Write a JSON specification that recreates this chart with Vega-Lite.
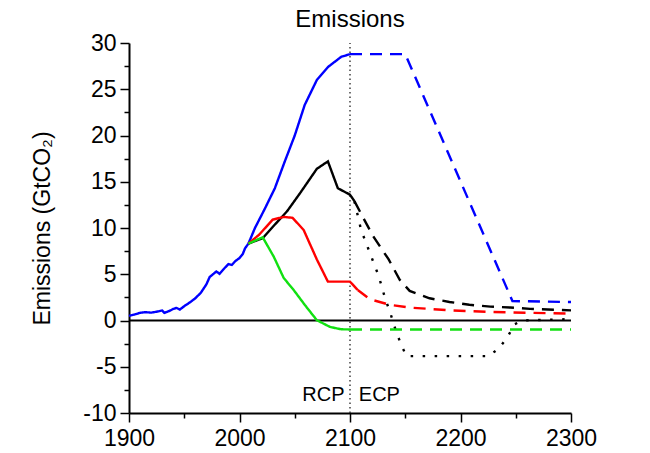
{
  "$schema": "https://vega.github.io/schema/vega-lite/v6.json",
  "autosize": "none",
  "width": 442,
  "height": 370,
  "padding": {"left": 129, "top": 43, "right": 79, "bottom": 40},
  "config": {"view": {"stroke": null}, "font": "Liberation Sans"},
  "title": {"text": "Emissions", "fontSize": 24, "fontWeight": "normal", "color": "black", "font": "Liberation Sans", "offset": 0},
  "data": {"values": [
    {"path":"hist","scenario":"Historical","segment":"RCP","year":1900,"value":0.5},
    {"path":"hist","scenario":"Historical","segment":"RCP","year":1905,"value":0.65},
    {"path":"hist","scenario":"Historical","segment":"RCP","year":1910,"value":0.83},
    {"path":"hist","scenario":"Historical","segment":"RCP","year":1915,"value":0.9},
    {"path":"hist","scenario":"Historical","segment":"RCP","year":1920,"value":0.85},
    {"path":"hist","scenario":"Historical","segment":"RCP","year":1925,"value":0.95},
    {"path":"hist","scenario":"Historical","segment":"RCP","year":1930,"value":1.08},
    {"path":"hist","scenario":"Historical","segment":"RCP","year":1932,"value":0.83},
    {"path":"hist","scenario":"Historical","segment":"RCP","year":1936,"value":1.0},
    {"path":"hist","scenario":"Historical","segment":"RCP","year":1940,"value":1.25},
    {"path":"hist","scenario":"Historical","segment":"RCP","year":1943,"value":1.36},
    {"path":"hist","scenario":"Historical","segment":"RCP","year":1946,"value":1.18},
    {"path":"hist","scenario":"Historical","segment":"RCP","year":1950,"value":1.55},
    {"path":"hist","scenario":"Historical","segment":"RCP","year":1955,"value":1.95},
    {"path":"hist","scenario":"Historical","segment":"RCP","year":1960,"value":2.4},
    {"path":"hist","scenario":"Historical","segment":"RCP","year":1965,"value":3.0},
    {"path":"hist","scenario":"Historical","segment":"RCP","year":1970,"value":3.9},
    {"path":"hist","scenario":"Historical","segment":"RCP","year":1973,"value":4.7},
    {"path":"hist","scenario":"Historical","segment":"RCP","year":1976,"value":5.0},
    {"path":"hist","scenario":"Historical","segment":"RCP","year":1979,"value":5.3},
    {"path":"hist","scenario":"Historical","segment":"RCP","year":1982,"value":5.05},
    {"path":"hist","scenario":"Historical","segment":"RCP","year":1986,"value":5.6},
    {"path":"hist","scenario":"Historical","segment":"RCP","year":1990,"value":6.1},
    {"path":"hist","scenario":"Historical","segment":"RCP","year":1993,"value":6.0},
    {"path":"hist","scenario":"Historical","segment":"RCP","year":1996,"value":6.4},
    {"path":"hist","scenario":"Historical","segment":"RCP","year":2000,"value":6.75},
    {"path":"hist","scenario":"Historical","segment":"RCP","year":2003,"value":7.2},
    {"path":"hist","scenario":"Historical","segment":"RCP","year":2005,"value":7.8},
    {"path":"hist","scenario":"Historical","segment":"RCP","year":2008,"value":8.3},

    {"path":"r85","scenario":"RCP8.5","segment":"RCP","year":2008,"value":8.3},
    {"path":"r85","scenario":"RCP8.5","segment":"RCP","year":2014,"value":10.0},
    {"path":"r85","scenario":"RCP8.5","segment":"RCP","year":2023,"value":12.1},
    {"path":"r85","scenario":"RCP8.5","segment":"RCP","year":2032,"value":14.3},
    {"path":"r85","scenario":"RCP8.5","segment":"RCP","year":2041,"value":17.2},
    {"path":"r85","scenario":"RCP8.5","segment":"RCP","year":2050,"value":20.0},
    {"path":"r85","scenario":"RCP8.5","segment":"RCP","year":2059,"value":23.3},
    {"path":"r85","scenario":"RCP8.5","segment":"RCP","year":2070,"value":26.0},
    {"path":"r85","scenario":"RCP8.5","segment":"RCP","year":2080,"value":27.4},
    {"path":"r85","scenario":"RCP8.5","segment":"RCP","year":2092,"value":28.5},
    {"path":"r85","scenario":"RCP8.5","segment":"RCP","year":2100,"value":28.8},
    {"path":"e85","scenario":"RCP8.5","segment":"ECP","year":2100,"value":28.8},
    {"path":"e85","scenario":"RCP8.5","segment":"ECP","year":2150,"value":28.8},
    {"path":"e85","scenario":"RCP8.5","segment":"ECP","year":2247,"value":2.1},
    {"path":"e85","scenario":"RCP8.5","segment":"ECP","year":2300,"value":2.0},

    {"path":"r60","scenario":"RCP6","segment":"RCP","year":2008,"value":8.3},
    {"path":"r60","scenario":"RCP6","segment":"RCP","year":2012,"value":8.5},
    {"path":"r60","scenario":"RCP6","segment":"RCP","year":2021,"value":8.9},
    {"path":"r60","scenario":"RCP6","segment":"RCP","year":2033,"value":10.5},
    {"path":"r60","scenario":"RCP6","segment":"RCP","year":2043,"value":11.8},
    {"path":"r60","scenario":"RCP6","segment":"RCP","year":2055,"value":13.8},
    {"path":"r60","scenario":"RCP6","segment":"RCP","year":2070,"value":16.4},
    {"path":"r60","scenario":"RCP6","segment":"RCP","year":2080,"value":17.2},
    {"path":"r60","scenario":"RCP6","segment":"RCP","year":2089,"value":14.3},
    {"path":"r60","scenario":"RCP6","segment":"RCP","year":2100,"value":13.6},
    {"path":"r60","scenario":"RCP6","segment":"RCP","year":2104,"value":12.9},
    {"path":"e60","scenario":"RCP6","segment":"ECP","year":2104,"value":12.9},
    {"path":"e60","scenario":"RCP6","segment":"ECP","year":2112,"value":11.1},
    {"path":"e60","scenario":"RCP6","segment":"ECP","year":2121,"value":9.1},
    {"path":"e60","scenario":"RCP6","segment":"ECP","year":2135,"value":6.6},
    {"path":"e60","scenario":"RCP6","segment":"ECP","year":2145,"value":4.4},
    {"path":"e60","scenario":"RCP6","segment":"ECP","year":2154,"value":3.2},
    {"path":"e60","scenario":"RCP6","segment":"ECP","year":2172,"value":2.4},
    {"path":"e60","scenario":"RCP6","segment":"ECP","year":2190,"value":2.0},
    {"path":"e60","scenario":"RCP6","segment":"ECP","year":2208,"value":1.7},
    {"path":"e60","scenario":"RCP6","segment":"ECP","year":2227,"value":1.5},
    {"path":"e60","scenario":"RCP6","segment":"ECP","year":2245,"value":1.4},
    {"path":"e60","scenario":"RCP6","segment":"ECP","year":2263,"value":1.26},
    {"path":"e60","scenario":"RCP6","segment":"ECP","year":2300,"value":1.1},
    {"path":"x60","scenario":"RCP6","segment":"ECP-alt","year":2104,"value":12.9},
    {"path":"x60","scenario":"RCP6","segment":"ECP-alt","year":2110,"value":9.8},
    {"path":"x60","scenario":"RCP6","segment":"ECP-alt","year":2118,"value":7.3},
    {"path":"x60","scenario":"RCP6","segment":"ECP-alt","year":2126,"value":4.8},
    {"path":"x60","scenario":"RCP6","segment":"ECP-alt","year":2132,"value":2.3},
    {"path":"x60","scenario":"RCP6","segment":"ECP-alt","year":2136,"value":1.0},
    {"path":"x60","scenario":"RCP6","segment":"ECP-alt","year":2142,"value":-1.3},
    {"path":"x60","scenario":"RCP6","segment":"ECP-alt","year":2147,"value":-2.8},
    {"path":"x60","scenario":"RCP6","segment":"ECP-alt","year":2151,"value":-3.85},
    {"path":"x60","scenario":"RCP6","segment":"ECP-alt","year":2225,"value":-3.85},
    {"path":"x60","scenario":"RCP6","segment":"ECP-alt","year":2234,"value":-3.1},
    {"path":"x60","scenario":"RCP6","segment":"ECP-alt","year":2242,"value":-1.9},
    {"path":"x60","scenario":"RCP6","segment":"ECP-alt","year":2249,"value":-0.4},
    {"path":"x60","scenario":"RCP6","segment":"ECP-alt","year":2256,"value":0.0},
    {"path":"x60","scenario":"RCP6","segment":"ECP-alt","year":2300,"value":0.15},

    {"path":"r45","scenario":"RCP4.5","segment":"RCP","year":2008,"value":8.3},
    {"path":"r45","scenario":"RCP4.5","segment":"RCP","year":2018,"value":9.3},
    {"path":"r45","scenario":"RCP4.5","segment":"RCP","year":2030,"value":10.9},
    {"path":"r45","scenario":"RCP4.5","segment":"RCP","year":2040,"value":11.2},
    {"path":"r45","scenario":"RCP4.5","segment":"RCP","year":2048,"value":11.1},
    {"path":"r45","scenario":"RCP4.5","segment":"RCP","year":2058,"value":9.8},
    {"path":"r45","scenario":"RCP4.5","segment":"RCP","year":2070,"value":6.6},
    {"path":"r45","scenario":"RCP4.5","segment":"RCP","year":2080,"value":4.2},
    {"path":"r45","scenario":"RCP4.5","segment":"RCP","year":2100,"value":4.2},
    {"path":"r45","scenario":"RCP4.5","segment":"RCP","year":2107,"value":3.3},
    {"path":"e45","scenario":"RCP4.5","segment":"ECP","year":2107,"value":3.3},
    {"path":"e45","scenario":"RCP4.5","segment":"ECP","year":2118,"value":2.3},
    {"path":"e45","scenario":"RCP4.5","segment":"ECP","year":2136,"value":1.7},
    {"path":"e45","scenario":"RCP4.5","segment":"ECP","year":2154,"value":1.4},
    {"path":"e45","scenario":"RCP4.5","segment":"ECP","year":2190,"value":1.1},
    {"path":"e45","scenario":"RCP4.5","segment":"ECP","year":2227,"value":0.93},
    {"path":"e45","scenario":"RCP4.5","segment":"ECP","year":2263,"value":0.83},
    {"path":"e45","scenario":"RCP4.5","segment":"ECP","year":2300,"value":0.75},

    {"path":"r26","scenario":"RCP2.6","segment":"RCP","year":2008,"value":8.3},
    {"path":"r26","scenario":"RCP2.6","segment":"RCP","year":2021,"value":9.0},
    {"path":"r26","scenario":"RCP2.6","segment":"RCP","year":2031,"value":6.9},
    {"path":"r26","scenario":"RCP2.6","segment":"RCP","year":2040,"value":4.6},
    {"path":"r26","scenario":"RCP2.6","segment":"RCP","year":2049,"value":3.3},
    {"path":"r26","scenario":"RCP2.6","segment":"RCP","year":2059,"value":1.7},
    {"path":"r26","scenario":"RCP2.6","segment":"RCP","year":2070,"value":0.03},
    {"path":"r26","scenario":"RCP2.6","segment":"RCP","year":2082,"value":-0.7},
    {"path":"r26","scenario":"RCP2.6","segment":"RCP","year":2092,"value":-0.95},
    {"path":"r26","scenario":"RCP2.6","segment":"RCP","year":2100,"value":-0.97},
    {"path":"e26","scenario":"RCP2.6","segment":"ECP","year":2100,"value":-0.97},
    {"path":"e26","scenario":"RCP2.6","segment":"ECP","year":2300,"value":-0.97}
  ]},
  "encoding": {
    "x": {"field": "year", "type": "quantitative",
      "scale": {"domain": [1900, 2300], "nice": false, "zero": false},
      "axis": {"title": null, "grid": false,
        "values": [1900, 1950, 2000, 2050, 2100, 2150, 2200, 2250, 2300],
        "labelExpr": "datum.value % 100 === 0 ? '' + datum.value : ''",
        "tickSize": {"condition": {"test": "datum.value % 100 === 0", "value": 9}, "value": 5},
        "labelOverlap": false, "labelFlush": false,
        "domainColor": "black", "domainWidth": 2, "tickColor": "black", "tickWidth": 1.5,
        "labelFontSize": 23, "labelColor": "black", "labelFont": "Liberation Sans", "labelPadding": 5}},
    "y": {"field": "value", "type": "quantitative",
      "scale": {"domain": [-10, 30], "nice": false, "zero": false},
      "axis": {"title": "Emissions (GtCO₂)", "grid": false,
        "values": [-10, -7.5, -5, -2.5, 0, 2.5, 5, 7.5, 10, 12.5, 15, 17.5, 20, 22.5, 25, 27.5, 30],
        "labelExpr": "datum.value % 5 === 0 ? '' + datum.value : ''",
        "tickSize": {"condition": {"test": "datum.value % 5 === 0", "value": 9}, "value": 5},
        "labelOverlap": false, "labelFlush": false,
        "domainColor": "black", "domainWidth": 2, "tickColor": "black", "tickWidth": 1.5,
        "labelFontSize": 23, "labelColor": "black", "labelFont": "Liberation Sans", "labelPadding": 4,
        "titleFontSize": 23, "titleFontWeight": "normal", "titleColor": "black", "titleFont": "Liberation Sans", "titlePadding": 28}}
  },
  "layer": [
    {
      "data": {"values": [{"year": 1900, "year2": 2300, "value": 0}]},
      "mark": {"type": "rule", "color": "black", "strokeWidth": 2},
      "encoding": {"x2": {"field": "year2"}}
    },
    {
      "data": {"values": [{"year": 2100, "value": -10, "value2": 30}]},
      "mark": {"type": "rule", "color": "#222222", "strokeWidth": 1.3, "strokeDash": [1.5, 3]},
      "encoding": {"y2": {"field": "value2"}}
    },
    {
      "mark": {"type": "line", "strokeWidth": 2.4, "strokeCap": "butt"},
      "encoding": {
        "detail": {"field": "path"},
        "color": {"field": "scenario", "type": "nominal", "legend": null,
          "scale": {"domain": ["Historical", "RCP8.5", "RCP6", "RCP4.5", "RCP2.6"],
                    "range": ["#0000ff", "#0000ff", "#000000", "#ff0000", "#11e011"]}},
        "strokeDash": {"field": "segment", "type": "nominal", "legend": null,
          "scale": {"domain": ["RCP", "ECP", "ECP-alt"], "range": [[1, 0], [12, 8], [2.5, 9.5]]}}
      }
    },
    {
      "data": {"values": [{"year": 2095, "value": -8.7, "label": "RCP"}]},
      "mark": {"type": "text", "align": "right", "baseline": "alphabetic", "fontSize": 20, "font": "Liberation Sans", "color": "black"},
      "encoding": {"text": {"field": "label"}}
    },
    {
      "data": {"values": [{"year": 2108, "value": -8.7, "label": "ECP"}]},
      "mark": {"type": "text", "align": "left", "baseline": "alphabetic", "fontSize": 20, "font": "Liberation Sans", "color": "black"},
      "encoding": {"text": {"field": "label"}}
    }
  ]
}
